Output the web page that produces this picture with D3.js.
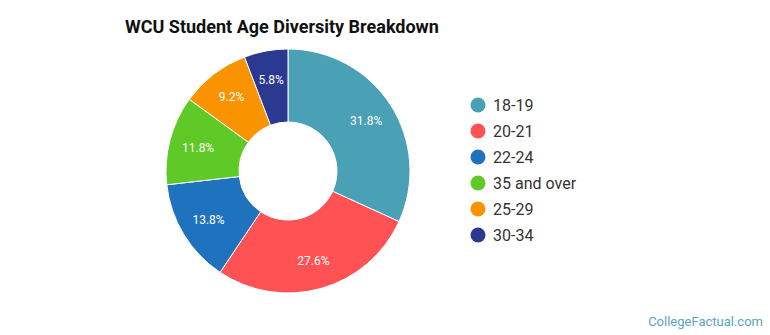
<!DOCTYPE html>
<html>
<head>
<meta charset="utf-8">
<script src="https://cdn.jsdelivr.net/npm/d3@7"></script>
<style>
  body { margin: 0; background: #fff; }
  svg { font-family: Roboto, "Noto Sans", sans-serif; }
</style>
</head>
<body>
<svg id="chart" width="770" height="335"></svg>
<script>
// data
const categories = ["18-19", "20-21", "22-24", "35 and over", "25-29", "30-34"];
const shares = [31.8, 27.6, 13.8, 11.8, 9.2, 5.8];
const colors = ["#4aa0b4", "#fe5254", "#1f72be", "#5fc927", "#f99300", "#2b3990"];

const svg = d3.select("#chart");

// title
svg.append("text")
  .attr("x", 125)
  .attr("y", 33)
  .attr("font-size", 18)
  .attr("font-weight", "bold")
  .attr("fill", "#111")
  .text("WCU Student Age Diversity Breakdown");

const cx = 288, cy = 171;
const outerR = 122, innerR = 49;

const pie = d3.pie().sort(null).value((d) => d.value);
const arcs = pie(categories.map((c, i) => ({ name: c, value: shares[i], color: colors[i] })));

const arc = d3.arc().innerRadius(innerR).outerRadius(outerR);
const labelArc = d3.arc().innerRadius(93).outerRadius(93);

const g = svg.append("g").attr("transform", `translate(${cx},${cy})`);

g.selectAll("path")
  .data(arcs)
  .join("path")
  .attr("d", arc)
  .attr("fill", (d) => d.data.color)
  .attr("stroke", "#fff")
  .attr("stroke-width", 1);

g.selectAll("text.slice-label")
  .data(arcs)
  .join("text")
  .attr("class", "slice-label")
  .attr("transform", (d) => `translate(${labelArc.centroid(d)})`)
  .attr("text-anchor", "middle")
  .attr("dy", "0.35em")
  .attr("font-size", 12)
  .attr("fill", "#fff")
  .text((d) => d.data.value.toFixed(1) + "%");

// legend
const legendY = d3.scalePoint().domain(categories).range([105, 235]);
const legend = svg.append("g");
const rows = legend.selectAll("g")
  .data(categories)
  .join("g")
  .attr("transform", (d) => `translate(478,${legendY(d)})`);

rows.append("circle")
  .attr("r", 7.5)
  .attr("fill", (d, i) => colors[i]);

rows.append("text")
  .attr("x", 15)
  .attr("dy", "0.35em")
  .attr("font-size", 16)
  .attr("fill", "#333")
  .text((d) => d);

// footer
svg.append("text")
  .attr("x", 763)
  .attr("y", 326)
  .attr("text-anchor", "end")
  .attr("font-size", 13)
  .attr("fill", "#5ba3bf")
  .text("CollegeFactual.com");
</script>
</body>
</html>
